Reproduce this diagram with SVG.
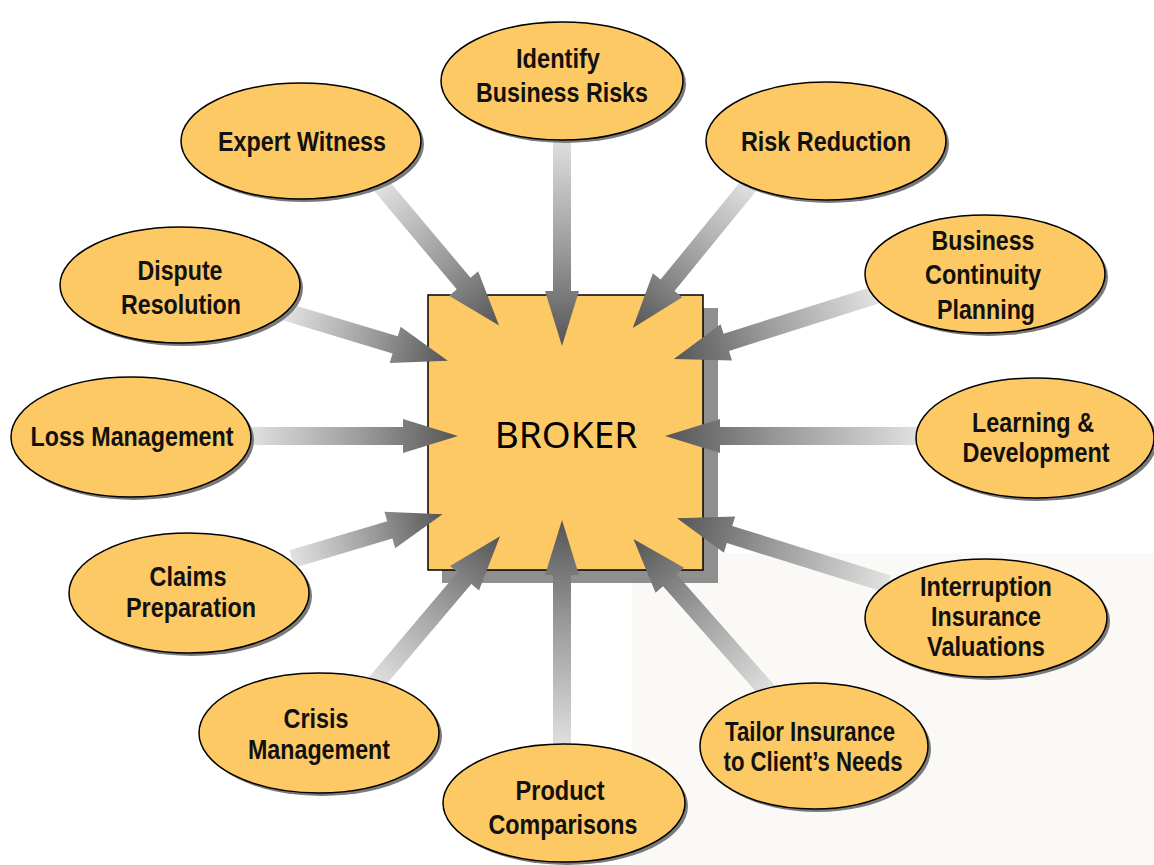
<svg xmlns="http://www.w3.org/2000/svg" width="1154" height="865" viewBox="0 0 1154 865">
<defs>
<linearGradient id="ag" x1="0" y1="0" x2="1" y2="0">
<stop offset="0" stop-color="#e2e2e2"/>
<stop offset="0.55" stop-color="#9a9a9a"/>
<stop offset="1" stop-color="#555555"/>
</linearGradient>
<style>
.ell{fill:#FDC964;stroke:#000;stroke-width:1.5}
.esh{fill:#7a7a7a}
.arr{fill:url(#ag)}
.lbl{font-family:"Liberation Sans Narrow","Arial Narrow","Liberation Sans",sans-serif;font-weight:bold;font-size:27px;fill:#111;text-anchor:middle}
.big{font-family:"Noto Sans","Liberation Sans",sans-serif;font-size:37px;fill:#000;text-anchor:middle}
</style>
</defs>
<rect x="0" y="0" width="1154" height="865" fill="#ffffff"/>
<rect x="632" y="553" width="522" height="312" fill="#faf9f6"/>
<g id="broker">
<rect x="442" y="308" width="276" height="275" fill="#8f8f8f"/>
<rect x="428" y="295" width="275" height="275" fill="#FDC964" stroke="#000" stroke-width="1.5"/>
<text class="big" x="566" y="448">BROKER</text>
</g>
<g id="connectors">
<path class="arr" transform="translate(562,135) rotate(90)" d="M0,-9 L156,-9 L156,-17 L211,0 L156,17 L156,9 L0,9 Z"/>
<path class="arr" transform="translate(562,750) rotate(-90)" d="M0,-9 L175,-9 L175,-17 L230,0 L175,17 L175,9 L0,9 Z"/>
<path class="arr" transform="translate(248,436)" d="M0,-9 L155,-9 L155,-17 L210,0 L155,17 L155,9 L0,9 Z"/>
<path class="arr" transform="translate(922,436) rotate(180)" d="M0,-9 L202,-9 L202,-17 L257,0 L202,17 L202,9 L0,9 Z"/>
<path class="arr" transform="translate(380,184) rotate(49.95)" d="M0,-9 L130,-9 L130,-19 L185,0 L130,19 L130,9 L0,9 Z"/>
<path class="arr" transform="translate(751,183) rotate(129.2)" d="M0,-9 L132,-9 L132,-19 L187,0 L132,19 L132,9 L0,9 Z"/>
<path class="arr" transform="translate(286,312) rotate(16.77)" d="M0,-9 L114,-9 L114,-19 L169,0 L114,19 L114,9 L0,9 Z"/>
<path class="arr" transform="translate(876,295) rotate(162.45)" d="M0,-9 L157,-9 L157,-19 L212,0 L157,19 L157,9 L0,9 Z"/>
<path class="arr" transform="translate(292,559) rotate(-16.52)" d="M0,-9 L102,-9 L102,-19 L157,0 L102,19 L102,9 L0,9 Z"/>
<path class="arr" transform="translate(888,584) rotate(197.34)" d="M0,-9 L166,-9 L166,-19 L221,0 L166,19 L166,9 L0,9 Z"/>
<path class="arr" transform="translate(374,685) rotate(-49.73)" d="M0,-9 L140,-9 L140,-19 L195,0 L140,19 L140,9 L0,9 Z"/>
<path class="arr" transform="translate(771,695) rotate(-131.4)" d="M0,-9 L153,-9 L153,-19 L208,0 L153,19 L153,9 L0,9 Z"/>
</g>
<g id="identify">
<ellipse class="esh" cx="565" cy="84" rx="121" ry="59"/>
<ellipse class="ell" cx="562" cy="81" rx="121" ry="59"/>
<text class="lbl" x="558" y="68" textLength="84" lengthAdjust="spacingAndGlyphs">Identify</text>
<text class="lbl" x="562" y="102" textLength="172" lengthAdjust="spacingAndGlyphs">Business Risks</text>
</g>
<g id="expert">
<ellipse class="esh" cx="304" cy="144" rx="120" ry="58"/>
<ellipse class="ell" cx="301" cy="141" rx="120" ry="58"/>
<text class="lbl" x="302" y="151" textLength="168" lengthAdjust="spacingAndGlyphs">Expert Witness</text>
</g>
<g id="riskreduction">
<ellipse class="esh" cx="829" cy="144" rx="120" ry="59"/>
<ellipse class="ell" cx="826" cy="141" rx="120" ry="59"/>
<text class="lbl" x="826" y="151" textLength="170" lengthAdjust="spacingAndGlyphs">Risk Reduction</text>
</g>
<g id="dispute">
<ellipse class="esh" cx="183" cy="288" rx="120" ry="58"/>
<ellipse class="ell" cx="180" cy="285" rx="120" ry="58"/>
<text class="lbl" x="180" y="280" textLength="85" lengthAdjust="spacingAndGlyphs">Dispute</text>
<text class="lbl" x="181" y="314" textLength="120" lengthAdjust="spacingAndGlyphs">Resolution</text>
</g>
<g id="continuity">
<ellipse class="esh" cx="988" cy="277" rx="120" ry="59"/>
<ellipse class="ell" cx="985" cy="274" rx="120" ry="59"/>
<text class="lbl" x="983" y="250" textLength="103" lengthAdjust="spacingAndGlyphs">Business</text>
<text class="lbl" x="983" y="284" textLength="116" lengthAdjust="spacingAndGlyphs">Continuity</text>
<text class="lbl" x="986" y="319" textLength="98" lengthAdjust="spacingAndGlyphs">Planning</text>
</g>
<g id="loss">
<ellipse class="esh" cx="134" cy="440" rx="120" ry="60"/>
<ellipse class="ell" cx="131" cy="437" rx="120" ry="60"/>
<text class="lbl" x="132" y="446" textLength="203" lengthAdjust="spacingAndGlyphs">Loss Management</text>
</g>
<g id="learning">
<ellipse class="esh" cx="1038" cy="441" rx="119" ry="60"/>
<ellipse class="ell" cx="1035" cy="438" rx="119" ry="60"/>
<text class="lbl" x="1033" y="432" textLength="122" lengthAdjust="spacingAndGlyphs">Learning &amp;</text>
<text class="lbl" x="1036" y="462" textLength="147" lengthAdjust="spacingAndGlyphs">Development</text>
</g>
<g id="claims">
<ellipse class="esh" cx="192" cy="596" rx="120" ry="60"/>
<ellipse class="ell" cx="189" cy="593" rx="120" ry="60"/>
<text class="lbl" x="188" y="586" textLength="77" lengthAdjust="spacingAndGlyphs">Claims</text>
<text class="lbl" x="191" y="617" textLength="130" lengthAdjust="spacingAndGlyphs">Preparation</text>
</g>
<g id="interruption">
<ellipse class="esh" cx="989" cy="621" rx="121" ry="59"/>
<ellipse class="ell" cx="986" cy="618" rx="121" ry="59"/>
<text class="lbl" x="986" y="596" textLength="132" lengthAdjust="spacingAndGlyphs">Interruption</text>
<text class="lbl" x="986" y="626" textLength="110" lengthAdjust="spacingAndGlyphs">Insurance</text>
<text class="lbl" x="986" y="656" textLength="118" lengthAdjust="spacingAndGlyphs">Valuations</text>
</g>
<g id="crisis">
<ellipse class="esh" cx="322" cy="736" rx="120" ry="60"/>
<ellipse class="ell" cx="319" cy="733" rx="120" ry="60"/>
<text class="lbl" x="316" y="728" textLength="65" lengthAdjust="spacingAndGlyphs">Crisis</text>
<text class="lbl" x="319" y="759" textLength="142" lengthAdjust="spacingAndGlyphs">Management</text>
</g>
<g id="tailor">
<ellipse class="esh" cx="817" cy="749" rx="114" ry="63"/>
<ellipse class="ell" cx="814" cy="746" rx="114" ry="63"/>
<text class="lbl" x="810" y="741" textLength="170" lengthAdjust="spacingAndGlyphs">Tailor Insurance</text>
<text class="lbl" x="813" y="771" textLength="179" lengthAdjust="spacingAndGlyphs">to Client’s Needs</text>
</g>
<g id="product">
<ellipse class="esh" cx="567" cy="806" rx="121" ry="59"/>
<ellipse class="ell" cx="564" cy="803" rx="121" ry="59"/>
<text class="lbl" x="560" y="800" textLength="89" lengthAdjust="spacingAndGlyphs">Product</text>
<text class="lbl" x="563" y="834" textLength="149" lengthAdjust="spacingAndGlyphs">Comparisons</text>
</g>
</svg>
